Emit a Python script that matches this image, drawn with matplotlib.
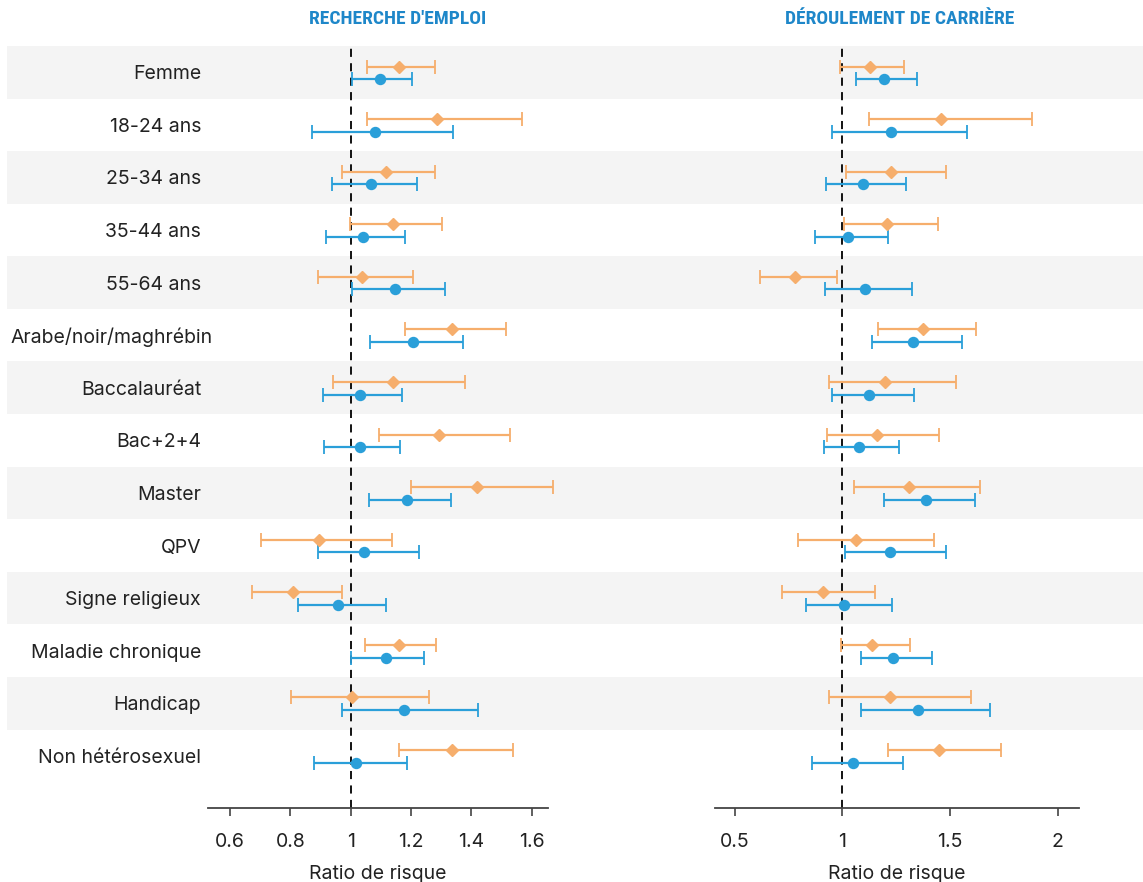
import matplotlib
matplotlib.use("Agg")
import matplotlib.pyplot as plt
import matplotlib.transforms as mtransforms
from matplotlib import font_manager
from matplotlib.patches import Rectangle

plt.rcParams["font.family"] = ["Inter", "DejaVu Sans"]

categories = ["Femme", "18-24 ans", "25-34 ans", "35-44 ans", "55-64 ans",
              "Arabe/noir/maghrébin", "Baccalauréat", "Bac+2+4", "Master", "QPV",
              "Signe religieux", "Maladie chronique", "Handicap", "Non hétérosexuel"]

# Recherche d'emploi : (orange = losange, bleu = rond)
emp_or = [1.161, 1.285, 1.116, 1.139, 1.036, 1.337, 1.140, 1.293, 1.417, 0.894, 0.810, 1.159, 1.004, 1.335]
emp_or_lo = [1.054, 1.053, 0.970, 0.997, 0.891, 1.179, 0.942, 1.095, 1.201, 0.702, 0.674, 1.046, 0.801, 1.159]
emp_or_hi = [1.281, 1.568, 1.281, 1.303, 1.205, 1.514, 1.379, 1.528, 1.670, 1.137, 0.972, 1.284, 1.260, 1.538]
emp_bl = [1.098, 1.080, 1.068, 1.040, 1.148, 1.208, 1.030, 1.030, 1.188, 1.045, 0.959, 1.116, 1.176, 1.019]
emp_bl_lo = [1.004, 0.872, 0.938, 0.918, 1.004, 1.065, 0.908, 0.911, 1.061, 0.892, 0.824, 1.002, 0.972, 0.877]
emp_bl_hi = [1.203, 1.339, 1.220, 1.180, 1.311, 1.372, 1.170, 1.164, 1.334, 1.228, 1.116, 1.242, 1.421, 1.186]

# Déroulement de carrière
car_or = [1.129, 1.457, 1.226, 1.206, 0.779, 1.375, 1.198, 1.161, 1.311, 1.065, 0.910, 1.139, 1.221, 1.450]
car_or_lo = [0.991, 1.125, 1.019, 1.008, 0.618, 1.164, 0.937, 0.929, 1.054, 0.796, 0.719, 0.995, 0.937, 1.211]
car_or_hi = [1.285, 1.881, 1.480, 1.443, 0.974, 1.622, 1.529, 1.449, 1.638, 1.426, 1.152, 1.314, 1.596, 1.737]
car_bl = [1.195, 1.225, 1.095, 1.028, 1.104, 1.330, 1.125, 1.076, 1.390, 1.223, 1.008, 1.237, 1.351, 1.048]
car_bl_lo = [1.062, 0.952, 0.924, 0.872, 0.920, 1.138, 0.951, 0.917, 1.194, 1.011, 0.831, 1.085, 1.085, 0.858]
car_bl_hi = [1.348, 1.581, 1.297, 1.212, 1.325, 1.556, 1.333, 1.263, 1.618, 1.481, 1.229, 1.416, 1.687, 1.280]

titles = ["RECHERCHE D'EMPLOI", "DÉROULEMENT DE CARRIÈRE"]
ticks_emp = [0.6, 0.8, 1.0, 1.2, 1.4, 1.6]
ticklabels_emp = ["0.6", "0.8", "1", "1.2", "1.4", "1.6"]
ticks_car = [0.5, 1.0, 1.5, 2.0]
ticklabels_car = ["0.5", "1", "1.5", "2"]

C_OR = "#F6AE6C"
C_BL = "#2A9FD9"
C_TITLE = "#1E87C9"
C_BAND = "#F4F4F4"
C_TXT = "#222222"


def condensed_family():
    # look for a narrow / condensed family for the titles
    names = sorted({f.name for f in font_manager.fontManager.ttflist})
    for pref in ["Roboto Condensed", "Liberation Sans Narrow", "DejaVu Sans Condensed",
                 "Open Sans Condensed", "Noto Sans Condensed"]:
        if pref in names:
            return pref, None
    for nm in names:
        if "Condensed" in nm or "Narrow" in nm:
            return nm, None
    return "DejaVu Sans", "condensed"


W, H = 1143, 882
fig = plt.figure(figsize=(W / 100, H / 100), dpi=100)

n = len(categories)
ybot = -0.5 + (807.7 - 46) / 52.58
ax1 = fig.add_axes([208 / W, 1 - 807.7 / H, 340 / W, (807.7 - 46) / H])
ax2 = fig.add_axes([715 / W, 1 - 807.7 / H, 364 / W, (807.7 - 46) / H])

# bandes grises sur toute la largeur (dessinées dans ax1, hors zone de tracé)
x0 = ax1.transAxes.inverted().transform(fig.transFigure.transform((7 / W, 0)))[0]
x1 = ax1.transAxes.inverted().transform(fig.transFigure.transform((1, 0)))[0]
tr = mtransforms.blended_transform_factory(ax1.transAxes, ax1.transData)
for i in range(0, n, 2):
    ax1.add_patch(Rectangle((x0, i - 0.5), x1 - x0, 1, transform=tr, facecolor=C_BAND,
                            edgecolor="none", zorder=0, clip_on=False))

panels = [
    (ax1, emp_or, emp_or_lo, emp_or_hi, emp_bl, emp_bl_lo, emp_bl_hi, (0.527, 1.654), ticks_emp, ticklabels_emp),
    (ax2, car_or, car_or_lo, car_or_hi, car_bl, car_bl_lo, car_bl_hi, (0.409, 2.099), ticks_car, ticklabels_car),
]

rows = list(range(n))
for ax, o, olo, ohi, b, blo, bhi, xl, tk, tkl in panels:
    ax.patch.set_visible(False)
    ax.axvline(1, color="black", lw=1.3, ls=(0, (4.5, 3.5)), zorder=1)
    yo = [r - 0.11 for r in rows]
    yb = [r + 0.13 for r in rows]
    ax.errorbar(o, yo, xerr=[[v - lo for v, lo in zip(o, olo)], [hi - v for v, hi in zip(o, ohi)]],
                fmt="D", ms=6.3, color=C_OR, ecolor=C_OR, elinewidth=1.6, capsize=4.8, capthick=1.3,
                zorder=3, clip_on=False)
    ax.errorbar(b, yb, xerr=[[v - lo for v, lo in zip(b, blo)], [hi - v for v, hi in zip(b, bhi)]],
                fmt="o", ms=7.2, color=C_BL, ecolor=C_BL, elinewidth=1.6, capsize=4.8, capthick=1.3,
                zorder=3, clip_on=False)
    ax.set_xlim(*xl)
    ax.set_ylim(ybot, -0.5)
    ax.set_xticks(tk)
    ax.set_xticklabels(tkl, fontsize=14, color=C_TXT)
    ax.tick_params(axis="x", length=6, width=1.2, color="#444444", pad=12)
    ax.set_xlabel("Ratio de risque", fontsize=14, color=C_TXT, labelpad=10)
    for s in ["top", "right", "left"]:
        ax.spines[s].set_visible(False)
    ax.spines["bottom"].set_color("#444444")
    ax.spines["bottom"].set_linewidth(1.3)

ax1.set_yticks(rows)
ax1.set_yticklabels(categories, fontsize=14, color=C_TXT)
ax1.tick_params(axis="y", length=0, pad=5)
# le libellé le plus long déborde un peu vers la droite
for lab in ax1.get_yticklabels():
    if lab.get_text() == "Arabe/noir/maghrébin":
        lab.set_transform(lab.get_transform() + mtransforms.ScaledTranslation(12 / 100, 0, fig.dpi_scale_trans))
ax2.set_yticks([])

fam, stretch = condensed_family()
tkw = dict(ha="center", va="center", color=C_TITLE, fontsize=14, fontweight="bold",
           family=[fam, "DejaVu Sans"])
if stretch:
    tkw["fontstretch"] = stretch
fig.text(398 / W, 1 - 19 / H, titles[0], **tkw)
fig.text(900 / W, 1 - 19 / H, titles[1], **tkw)

fig.savefig("out.png", dpi=100)
